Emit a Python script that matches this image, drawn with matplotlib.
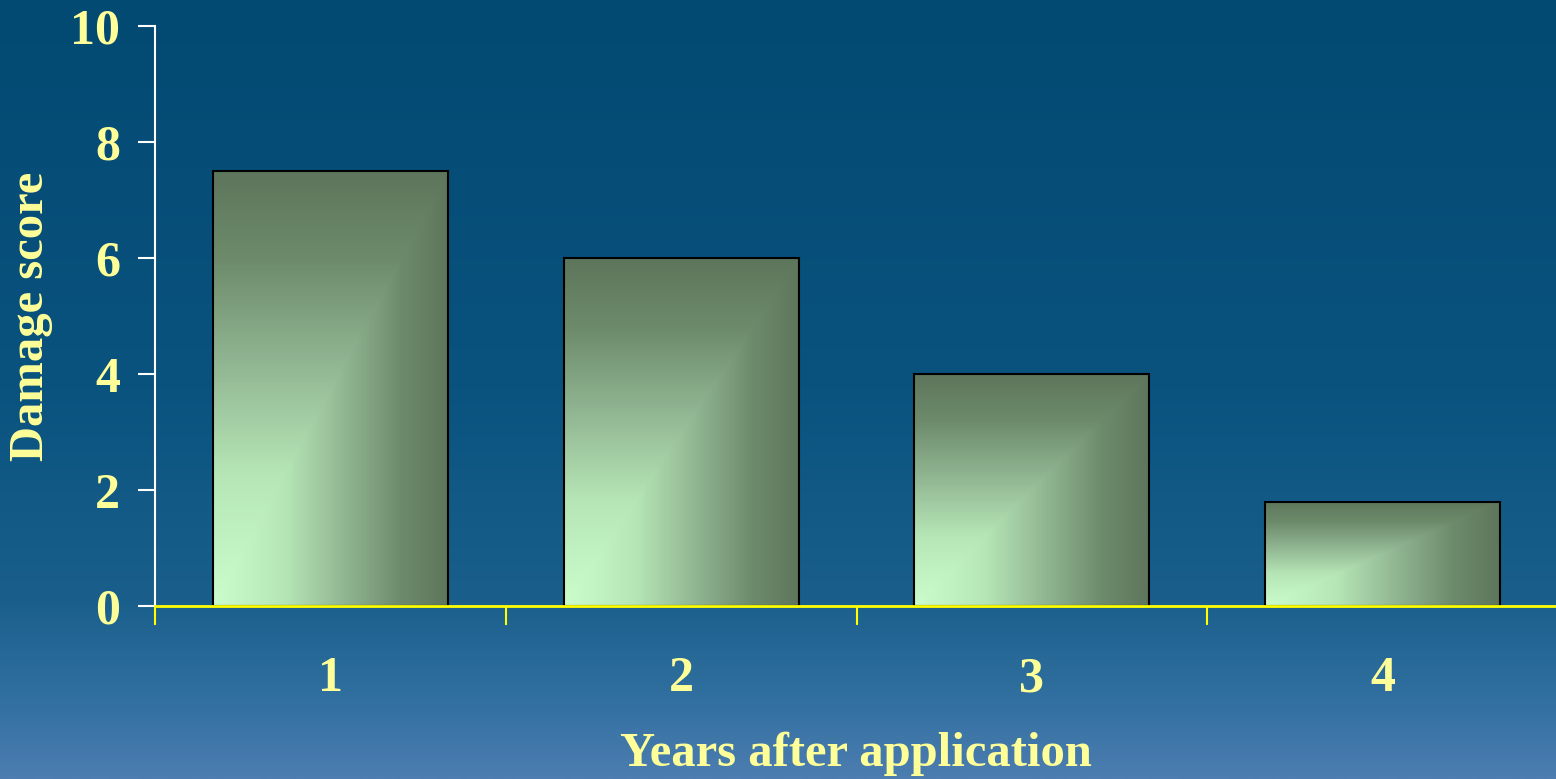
import numpy as np
import matplotlib
matplotlib.use("Agg")
import matplotlib.pyplot as plt
from matplotlib.colors import LinearSegmentedColormap
from matplotlib.patches import Rectangle

categories = ["1", "2", "3", "4"]
values = [7.5, 6.0, 4.0, 1.8]
y_ticks = [0, 2, 4, 6, 8, 10]
x_label = "Years after application"
y_label = "Damage score"

W, H = 1556, 779
fig = plt.figure(figsize=(W / 100, H / 100), dpi=100)

# background gradient
bg_cmap = LinearSegmentedColormap.from_list(
    "bg",
    [(0.0, "#034a72"), (0.5, "#0a537f"), (0.77, "#1a5f8c"),
     (0.9, "#3170a0"), (1.0, "#4d7db1")])
bg_ax = fig.add_axes([0, 0, 1, 1], zorder=-10)
grad = np.linspace(0, 1, 512).reshape(-1, 1)
bg_ax.imshow(grad, aspect="auto", cmap=bg_cmap, extent=(0, 1, 0, 1), origin="upper")
bg_ax.axis("off")

ax = fig.add_axes([155 / W, 1 - 606 / H, 1403 / W, 580 / H])
ax.patch.set_alpha(0)

x = np.arange(1, len(categories) + 1)
bw = 0.67
bars = ax.bar(x, values, width=bw, facecolor="none", edgecolor="black",
              linewidth=1.5, zorder=3)

bar_cmap = LinearSegmentedColormap.from_list(
    "bar", [(0.0, "#cbfdcb"), (0.3, "#b6e6b6"), (0.55, "#92b793"),
            (0.8, "#6d8b6b"), (1.0, "#5e765c")])
u = np.linspace(0, 1, 200)
v = np.linspace(0, 1, 200)
U, V = np.meshgrid(u, v)
T = np.maximum(U, V)  # light bottom-left, dark top and right
for b in bars:
    x0, y0 = b.get_x(), b.get_y()
    w, h = b.get_width(), b.get_height()
    im = ax.imshow(T, cmap=bar_cmap, origin="lower", aspect="auto",
                   extent=(x0, x0 + w, y0, y0 + h), zorder=2, vmin=0, vmax=1,
                   interpolation="bilinear")
    im.set_clip_path(Rectangle((x0, y0), w, h, transform=ax.transData))

ax.set_xlim(0.5, 4.5)
ax.set_ylim(0, 10)

yellow = "#ffff99"
font = dict(family="Liberation Serif", weight="bold", color=yellow)

ax.set_yticks(y_ticks)
ax.set_yticklabels([str(t) for t in y_ticks], fontsize=36, **font)
ax.set_xticks(x)
ax.set_xticklabels(categories, fontsize=36, **font)
ax.set_xticks(np.arange(0.5, 4.6, 1.0), minor=True)

ax.tick_params(axis="y", which="major", length=12, width=1.5, color="white",
               direction="out", pad=13)
ax.tick_params(axis="x", which="major", length=0, pad=36)
ax.tick_params(axis="x", which="minor", length=14, width=1.5, color="#ffff00",
               direction="out")

for s in ["top", "right"]:
    ax.spines[s].set_visible(False)
ax.spines["left"].set_color("white")
ax.spines["left"].set_linewidth(1.5)
ax.spines["bottom"].set_color("#ffff00")
ax.spines["bottom"].set_linewidth(2)
ax.spines["bottom"].set_zorder(5)

fig.text(856 / W, 1 - 754 / H, x_label, ha="center", va="center", fontsize=35, **font)
fig.text(31 / W, 1 - 316 / H, y_label, ha="center", va="center", rotation=90,
         fontsize=35, **font)

fig.savefig("out.png", dpi=100)
